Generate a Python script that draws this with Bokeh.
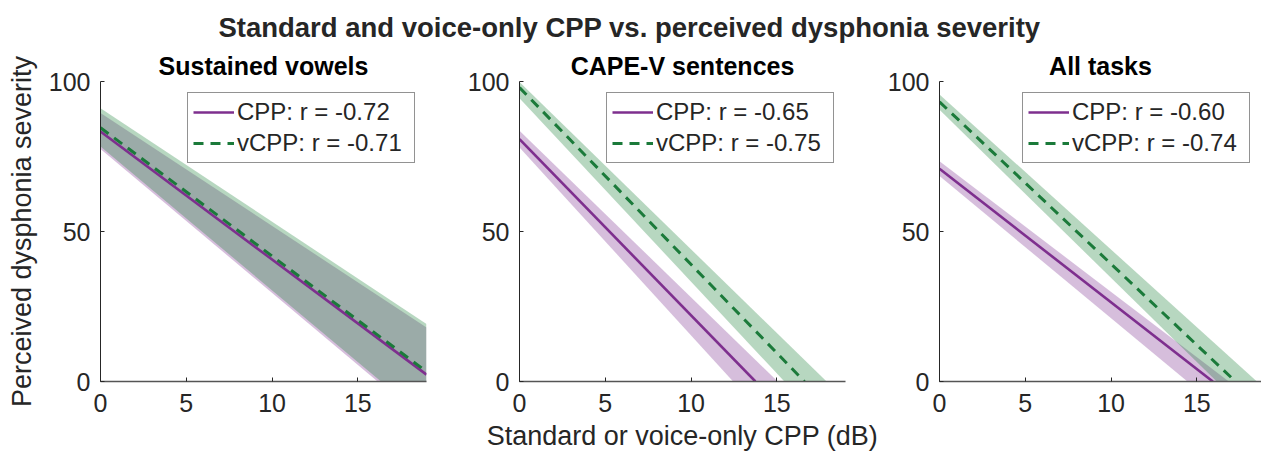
from bokeh.plotting import figure
from bokeh.layouts import column, row
from bokeh.models import Label, Legend, LegendItem, Range1d, FixedTicker
from bokeh.embed import file_html
from bokeh.resources import INLINE

# ---------------- data ----------------
main_title = "Standard and voice-only CPP vs. perceived dysphonia severity"
panel_titles = ["Sustained vowels", "CAPE-V sentences", "All tasks"]
cpp_r = ["-0.72", "-0.65", "-0.60"]
vcpp_r = ["-0.71", "-0.75", "-0.74"]

# regression lines (x: CPP in dB, y: perceived severity)
cpp_line_x = [[0, 19], [0, 13.75], [0, 15.93]]
cpp_line_y = [[83.3, 2.3], [80.8, 0], [70.9, 0]]
vcpp_line_x = [[0, 19], [0, 16.61], [0, 17.25]]
vcpp_line_y = [[84.6, 3.3], [98.0, 0], [93.2, 0]]

# confidence bands (upper and lower edges)
cpp_upper_x = [[0, 19], [0, 15.05], [0, 16.86]]
cpp_upper_y = [[89.5, 18.0], [83.6, 0], [73.4, 0]]
cpp_lower_x = [[0, 16.15, 19], [0, 12.45], [0, 14.45]]
cpp_lower_y = [[77.5, 0, 0], [78.0, 0], [68.5, 0]]
vcpp_upper_x = [[0, 19], [0, 17.9], [0, 18.5]]
vcpp_upper_y = [[91.1, 19.2], [99.8, 0], [95.7, 0]]
vcpp_lower_x = [[0, 16.35, 19], [0, 15.44], [0, 16.16]]
vcpp_lower_y = [[78.3, 0, 0], [94.4, 0], [90.6, 0]]

x_ticks = [0, 5, 10, 15]
y_ticks = [0, 50, 100]
x_label = "Standard or voice-only CPP (dB)"
y_label = "Perceived dysphonia severity"

# ---------------- style ----------------
FONT = "Liberation Sans"
PURPLE = "#7E2F8E"
GREEN = "#1B7A3A"
PURPLE_FILL = (120, 40, 140)
GREEN_FILL = (30, 130, 60)
TXT = "#262626"

# layout per panel: width, left border, right border, x end
layout = [
    (459, 100, 33, 19.0),
    (420, 60, 34, 19.0),
    (382, 60, 0, 19.0 * 322 / 326),
]
TITLE_H = 48
ROW_H = 415


def band(ux, uy, lx, ly):
    return ux + lx[::-1], uy + ly[::-1]


panels = []
for i in range(3):
    w, bl, br, xend = layout[i]
    p = figure(width=w, height=ROW_H, x_range=Range1d(0, xend), y_range=Range1d(0, 100),
               output_backend="svg", toolbar_location=None,
               min_border_left=bl, min_border_right=br,
               min_border_top=33, min_border_bottom=82,
               title=panel_titles[i])
    p.outline_line_color = None
    p.grid.visible = False
    p.background_fill_color = "white"
    p.border_fill_color = "white"

    p.title.text_font = FONT
    p.title.text_font_size = "25px"
    p.title.text_font_style = "bold"
    p.title.text_color = "#000000"
    p.title.align = "center"
    p.title.standoff = 3

    bx, by = band(cpp_upper_x[i], cpp_upper_y[i], cpp_lower_x[i], cpp_lower_y[i])
    p.patch(bx, by, fill_color=PURPLE_FILL, fill_alpha=0.3, line_color=None)
    gx, gy = band(vcpp_upper_x[i], vcpp_upper_y[i], vcpp_lower_x[i], vcpp_lower_y[i])
    p.patch(gx, gy, fill_color=GREEN_FILL, fill_alpha=0.32, line_color=None)

    r1 = p.line(cpp_line_x[i], cpp_line_y[i], line_color=PURPLE, line_width=2.6)
    r2 = p.line(vcpp_line_x[i], vcpp_line_y[i], line_color=GREEN, line_width=3,
                line_dash="10 7")

    for ax in (p.xaxis[0], p.yaxis[0]):
        ax.major_tick_in = 4
        ax.major_tick_out = 0
        ax.minor_tick_line_color = None
        ax.major_tick_line_color = TXT
        ax.major_label_text_font = FONT
        ax.major_label_text_font_size = "25px"
        ax.major_label_text_color = TXT
        ax.axis_label_text_font = FONT
        ax.axis_label_text_font_size = "27px"
        ax.axis_label_text_font_style = "normal"
        ax.axis_label_text_color = TXT
    p.xaxis.ticker = FixedTicker(ticks=x_ticks)
    p.yaxis.ticker = FixedTicker(ticks=y_ticks)
    p.xaxis.axis_line_color = "#555555"
    p.xaxis.axis_line_width = 1.5
    p.yaxis.axis_line_color = TXT
    p.yaxis.axis_line_width = 1
    p.xaxis.major_label_standoff = 12
    p.yaxis.major_label_standoff = 10
    if i == 0:
        p.yaxis.axis_label = y_label
        p.yaxis.axis_label_standoff = 9
    if i == 1:
        p.xaxis.axis_label = x_label
        p.xaxis.axis_label_standoff = 6

    legend = Legend(items=[
        LegendItem(label="CPP: r = " + cpp_r[i], renderers=[r1]),
        LegendItem(label="vCPP: r = " + vcpp_r[i], renderers=[r2]),
    ], location="top_right", margin=11, padding=5, spacing=3,
        label_height=28, glyph_height=28, glyph_width=41, label_standoff=3,
        label_width=172, label_text_font=FONT, label_text_font_size="24px",
        label_text_color=TXT, border_line_color=TXT, border_line_width=1,
        background_fill_color="white", background_fill_alpha=1.0)
    p.add_layout(legend)
    panels.append(p)

# main title strip
tf = figure(width=1261, height=TITLE_H, x_range=Range1d(0, 1261), y_range=Range1d(0, TITLE_H),
            x_axis_location=None, y_axis_location=None, toolbar_location=None,
            output_backend="svg", min_border=0)
tf.outline_line_color = None
tf.grid.visible = False
tf.add_layout(Label(x=629, y=21, text=main_title, text_align="center",
                    text_baseline="alphabetic", text_font=FONT, text_font_size="27.5px",
                    text_font_style="bold", text_color=TXT))

layout_all = column(tf, row(*panels))
open("out.html", "w").write(file_html(layout_all, INLINE))
